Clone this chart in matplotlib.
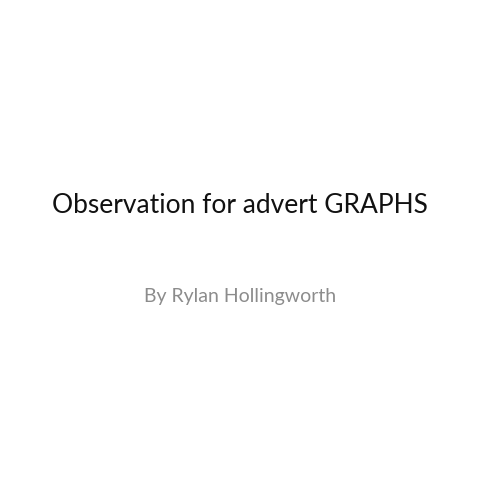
import matplotlib
matplotlib.use('Agg')
import matplotlib.pyplot as plt

# slide texts
TITLE = "Observation for advert GRAPHS"
SUBTITLE = "By Rylan Hollingworth"

W, H = 480, 480
fig = plt.figure(figsize=(4.8, 4.8), dpi=100, facecolor='white')

# baseline positions in pixels from top
fig.text(240 / W, 1 - 213 / H, TITLE, ha='center', va='baseline',
         fontsize=19, color='#111111', family=['Lato', 'DejaVu Sans'])
fig.text(240 / W, 1 - 302 / H, SUBTITLE, ha='center', va='baseline',
         fontsize=14, color='#8c8c8c', family=['Lato', 'DejaVu Sans'])

fig.savefig('out.png', dpi=100, facecolor='white')
